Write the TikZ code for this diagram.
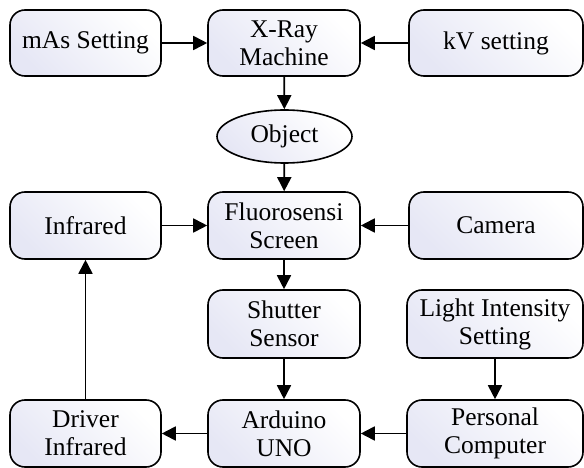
\documentclass[tikz,border=0pt]{standalone}
\usepackage{fontspec}
\setmainfont{Liberation Serif}
\usetikzlibrary{arrows.meta,shapes.geometric}
\definecolor{boxshade}{RGB}{230,231,245}
\tikzset{
  blk/.style={draw=black, line width=1.6pt, rounded corners=15pt,
    left color=boxshade, right color=white, shading angle=135,
    minimum height=66pt, align=center, inner sep=2pt,
    font=\fontsize{25.5pt}{28pt}\selectfont},
  oval/.style={draw=black, line width=1.6pt, ellipse,
    left color=boxshade, right color=white, shading angle=135,
    minimum width=135pt, minimum height=53pt, inner sep=0pt,
    font=\fontsize{25.5pt}{28pt}\selectfont},
  conn/.style={line width=1.8pt, -{Triangle[length=14pt,width=14pt]}}
}
\begin{document}
\begin{tikzpicture}[x=1pt,y=-1pt]
\useasboundingbox (0,0) rectangle (584,468);
\node[blk, minimum width=151pt] (mas) at (85.5,43) {mAs Setting};
\node[blk, minimum width=152pt] (xray) at (284,43) {X-Ray\\Machine};
\node[blk, minimum width=174pt] (kv) at (496,43) {kV setting};
\node[oval] (obj) at (284.5,136.5) {Object};
\node[blk, minimum width=151pt, minimum height=67pt] (ir) at (85.5,225.5) {Infrared};
\node[blk, minimum width=152pt, minimum height=67pt] (fl) at (284,225.5) {Fluorosensi\\Screen};
\node[blk, minimum width=174pt, minimum height=67pt] (cam) at (496,225.5) {Camera};
\node[blk, minimum width=152pt, minimum height=68pt] (sh) at (284,324) {Shutter\\Sensor};
\node[blk, minimum width=176pt, minimum height=68pt] (li) at (495,324) {Light Intensity\\Setting};
\node[blk, minimum width=151pt, minimum height=67pt] (dr) at (85.5,433.5) {Driver\\Infrared};
\node[blk, minimum width=152pt, minimum height=67pt] (ard) at (284,433.5) {Arduino\\UNO};
\node[blk, minimum width=176pt, minimum height=67pt] (pc) at (495,433.5) {Personal\\Computer};
\draw[conn] (mas) -- (xray);
\draw[conn] (kv) -- (xray);
\draw[conn] (xray) -- (obj);
\draw[conn] (obj) -- (fl);
\draw[conn] (ir) -- (fl);
\draw[conn] (cam) -- (fl);
\draw[conn] (fl) -- (sh);
\draw[conn] (sh) -- (ard);
\draw[conn] (li.south) -- (pc.north);
\draw[conn] (pc) -- (ard);
\draw[conn] (ard) -- (dr);
\draw[conn] (dr) -- (ir);
\end{tikzpicture}
\end{document}
